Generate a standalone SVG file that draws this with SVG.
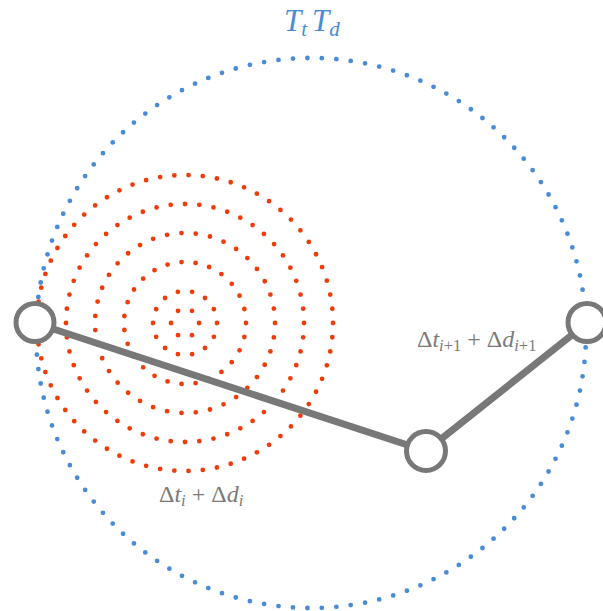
<svg xmlns="http://www.w3.org/2000/svg" width="603" height="611" viewBox="0 0 603 611">
<style>
.blue{fill:none;stroke:#4A8BD6;stroke-width:4.8;stroke-linecap:round;stroke-dasharray:0 1}
.red{fill:none;stroke:#F03C0A;stroke-width:4.8;stroke-linecap:round;stroke-dasharray:0 1}
.edge{stroke:#787878;stroke-width:7;fill:none}
.node{fill:#fff;stroke:#787878;stroke-width:5}
.lbl{font-family:"Liberation Serif","Times New Roman",serif;fill:#7a7a7a;font-size:24px}
.it{font-style:italic}
.sub{font-size:16.5px;font-style:italic}
.subu{font-size:16.5px}
.title{font-family:"Liberation Serif","Times New Roman",serif;fill:#4A8BD6;font-size:31px;font-style:italic}
.tsub{font-size:21px}
</style>
<rect width="603" height="611" fill="#fff"/>
<g id="outer-region">
<circle class="blue" cx="311" cy="333" r="275" pathLength="119"/>
</g>
<g id="inner-region">
<circle class="red" cx="185" cy="323" r="14" pathLength="6"/>
<circle class="red" cx="185" cy="323" r="32" pathLength="14"/>
<circle class="red" cx="185" cy="323" r="61" pathLength="27"/>
<circle class="red" cx="185" cy="323" r="90" pathLength="39"/>
<circle class="red" cx="185" cy="323" r="119" pathLength="52"/>
<circle class="red" cx="185" cy="323" r="148" pathLength="65"/>
</g>
<g id="connectors">
<line class="edge" x1="35" y1="323" x2="426" y2="451"/>
<line class="edge" x1="426" y1="451" x2="587" y2="323"/>
</g>
<g id="node-left"><circle class="node" cx="35" cy="322.5" r="19"/></g>
<g id="node-middle"><circle class="node" cx="426" cy="451" r="19.5"/></g>
<g id="node-right"><circle class="node" cx="587" cy="322.5" r="19"/></g>
<g id="title">
<text class="title" x="284" y="31">T<tspan class="tsub" dy="5">t</tspan><tspan dy="-5" dx="5">T</tspan><tspan class="tsub" dy="5">d</tspan></text>
</g>
<g id="label-right">
<text class="lbl" x="417" y="347">Δ<tspan class="it">t</tspan><tspan class="sub" dy="4">i</tspan><tspan class="subu">+1</tspan><tspan dy="-4" dx="6">+</tspan><tspan dx="6">Δ</tspan><tspan class="it">d</tspan><tspan class="sub" dy="4">i</tspan><tspan class="subu">+1</tspan></text>
</g>
<g id="label-left">
<text class="lbl" x="159" y="502">Δ<tspan class="it">t</tspan><tspan class="sub" dy="4">i</tspan><tspan dy="-4" dx="6">+</tspan><tspan dx="6">Δ</tspan><tspan class="it">d</tspan><tspan class="sub" dy="4">i</tspan></text>
</g>
</svg>
